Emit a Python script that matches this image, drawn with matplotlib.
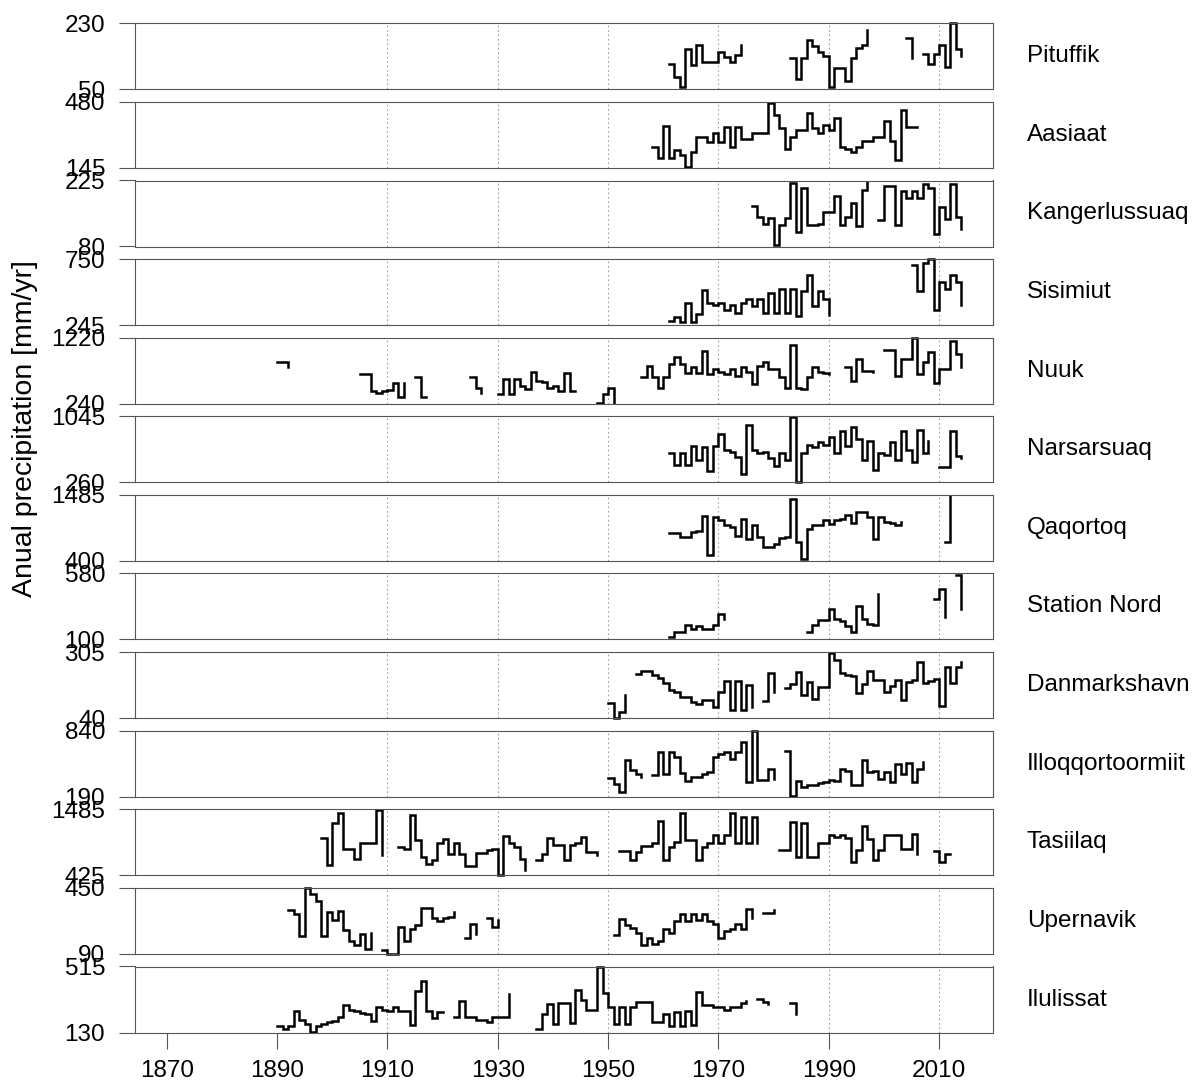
import numpy as np
import matplotlib.pyplot as plt

plt.rcParams['font.family'] = ['Liberation Sans', 'DejaVu Sans']

# annual precipitation [mm/yr]; each key is the first year of an unbroken run
PITUFFIK = {
    1961: [120, 84, 55, 159, 116, 170, 125, 125, 125, 152, 139, 125, 143, 171],
    1983: [136, 77, 136, 184, 168, 152, 140, 56, 107, 107, 72, 134, 163, 171, 212],
    2004: [189, 134],
    2007: [145, 119, 145, 172, 111, 230, 161, 141],
}
AASIAAT = {
    1958: [253, 193, 359, 193, 236, 210, 150, 227, 304, 304, 278, 321, 278, 355, 253,
           355, 290, 290, 321, 321, 321, 475, 415, 347, 239, 304, 338, 338, 424, 347,
           321, 364, 338, 398, 253, 239, 227, 253, 282, 282, 304, 304, 384, 282, 184,
           441, 355, 355, 355],
}
KANGERLUSSUAQ = {
    1976: [170, 144, 130, 143, 84, 127, 143, 219, 112, 208, 128, 128, 130, 156, 155,
           192, 127, 145, 175, 125, 204, 221],
    1999: [138, 212, 212, 127, 202, 186, 202, 186, 217, 208, 108, 167, 141, 217, 145, 118],
}
SISIMIUT = {
    1961: [276, 310, 266, 415, 266, 331, 512, 415, 402, 415, 363, 402, 337, 415, 446,
           389, 441, 337, 494, 337, 520, 337, 520, 316, 507, 630, 389, 507, 441, 323],
    2005: [708, 507, 721, 750, 363, 572, 520, 630, 577, 402],
}
NUUK = {
    1890: [865, 865, 780],
    1905: [680, 680, 430, 405, 430, 440, 540, 345, 540],
    1915: [640, 345, 345],
    1925: [630, 480, 405],
    1930: [380, 605, 380, 605, 505, 455, 705, 580, 555, 480, 505, 430, 690, 430, 430],
    1948: [245, 380, 470, 255],
    1956: [630, 805, 630, 470, 630, 830, 930, 830, 690, 780, 690, 1020, 680, 755, 705,
           680, 755, 655, 780, 705, 530, 805, 855, 755, 755, 630, 480, 1105, 480, 455,
           630, 780, 705, 690, 680],
    1993: [780, 580, 905, 730, 730, 705],
    2000: [1040, 1040, 655, 905, 905, 1215, 680, 855, 1005, 540, 755, 755, 1170, 980, 790],
}
NARSARSUAQ = {
    1961: [606, 463, 614, 463, 695, 524, 679, 390, 687, 829, 646, 626, 565, 362, 939,
           646, 614, 626, 545, 451, 606, 524, 1040, 265, 606, 707, 679, 736, 707, 801,
           606, 870, 687, 923, 776, 524, 748, 410, 606, 585, 736, 524, 870, 646, 504,
           882, 606, 748],
    2010: [443, 443, 870, 573, 545],
}
QAQORTOQ = {
    1961: [856, 856, 801, 801, 873, 890, 1134, 500, 1123, 1068, 984, 956, 817, 1095, 762,
           984, 801, 623, 623, 678, 778, 790, 1413, 706, 428, 928, 984, 984, 1068, 1012,
           1068, 1095, 1151, 1023, 1207, 1207, 1123, 762, 1123, 1040, 1023, 984, 1040],
    2011: [717, 1460],
}
STATION_NORD = {
    1961: [117, 158, 158, 207, 178, 197, 173, 173, 207, 288, 251],
    1986: [158, 202, 239, 239, 324, 251, 232, 197, 158, 344, 251, 215, 202, 434],
    2009: [397, 466, 263],
    2013: [568, 324],
}
DANMARKSHAVN = {
    1950: [102, 42, 64, 132],
    1955: [216, 229, 229, 213, 202, 179, 152, 145, 125, 125, 105, 98, 112, 112, 85,
           145, 189, 71, 189, 71, 172, 85],
    1978: [108, 220, 145],
    1982: [162, 175, 227, 132, 186, 118, 166, 166, 301, 274, 220, 213, 210, 139, 175,
           229, 193, 193, 145, 170, 193, 112, 186, 193, 267, 179, 189, 197, 89, 247,
           179, 247, 264],
}
ILLOQQORTOORMIIT = {
    1950: [374, 315, 233, 551, 453, 413, 380],
    1958: [407, 627, 413, 627, 577, 420, 348, 380, 380, 413, 430, 577, 610, 627, 561,
           627, 725, 331, 835, 354, 354, 462, 364],
    1982: [643, 195, 348, 288, 308, 308, 321, 331, 354, 348, 462, 440, 308, 308, 551,
           430, 446, 364, 430, 331, 512, 413, 518, 331, 462, 528],
}
TASIILAQ = {
    1898: [1017, 586, 1270, 1420, 855, 855, 694, 936, 936, 936, 1480, 748],
    1912: [882, 855, 1393, 990, 721, 613, 678, 936, 1001, 775, 947, 775, 570, 570, 785,
           785, 828, 855, 435, 1054, 936, 882, 694, 506],
    1937: [678, 775, 1017, 909, 909, 678, 909, 936, 1044, 802, 802, 748],
    1952: [818, 818, 667, 802, 893, 893, 936, 1302, 678, 882, 963, 1420, 990, 990, 678,
           882, 947, 1071, 947, 1071, 1431, 947, 1367, 947, 1367, 947],
    1981: [839, 839, 1286, 721, 1270, 721, 721, 936, 936, 1071, 1044, 1071, 1017, 640, 828,
           1216, 1001, 667, 828, 1071, 1071, 1071, 855, 855, 1087, 775],
    2009: [818, 640, 764, 764],
}
UPERNAVIK = {
    1892: [329, 307, 187, 448, 417, 377, 187, 316, 274, 325, 219, 163, 138, 200, 114, 206],
    1909: [110, 92, 92, 237, 163, 224, 248, 343, 343, 285, 270, 285, 292, 316],
    1924: [174, 255, 200],
    1928: [285, 237, 274],
    1951: [193, 279, 248, 233, 206, 141, 174, 145, 160, 224, 206, 270, 310, 270, 310,
           274, 310, 270, 255, 178, 215, 224, 252, 224, 334, 288],
    1978: [314, 314, 330],
}
ILULISSAT = {
    1890: [169, 150, 169, 253, 202, 179, 133, 169, 179, 189, 195, 218, 292, 261, 253,
           245, 237, 198, 277, 261, 257, 280, 257, 253, 175, 370, 429, 253, 214, 247, 247],
    1922: [222, 312, 218, 218, 202, 202, 189, 222, 222, 222, 355],
    1937: [150, 237, 296, 179, 300, 300, 183, 378, 320, 261, 261, 512, 359, 277, 179,
           277, 179, 277, 306, 306, 306, 189, 189, 237, 169, 247, 169, 257, 175, 364,
           292, 292, 277, 277, 261, 277, 280, 300, 312],
    1977: [325, 306, 296],
    1983: [300, 237],
}

stations = ['Pituffik', 'Aasiaat', 'Kangerlussuaq', 'Sisimiut', 'Nuuk', 'Narsarsuaq',
            'Qaqortoq', 'Station Nord', 'Danmarkshavn', 'Illoqqortoormiit', 'Tasiilaq',
            'Upernavik', 'Ilulissat']
series = [PITUFFIK, AASIAAT, KANGERLUSSUAQ, SISIMIUT, NUUK, NARSARSUAQ, QAQORTOQ,
          STATION_NORD, DANMARKSHAVN, ILLOQQORTOORMIIT, TASIILAQ, UPERNAVIK, ILULISSAT]
y_ranges = [(50, 230), (145, 480), (80, 225), (245, 750), (240, 1220), (260, 1045),
            (400, 1485), (100, 580), (40, 305), (190, 840), (425, 1485), (90, 450),
            (130, 515)]
year_ticks = np.arange(1870, 2011, 20)
grid_years = np.arange(1910, 2011, 20)
first_year, last_year = 1870, 2014

W, H = 1201, 1091
fig = plt.figure(figsize=(W / 100, H / 100), dpi=100)
fig.patch.set_facecolor('white')

left, right = 135, 993
top0, step, height = 23.3, 78.6, 66
pad_years = 0.04 * (last_year - first_year)
xlim = (first_year - pad_years, last_year + pad_years)
box_col = '#555555'
fs = 17.5

for i, (name, runs, (lo, hi)) in enumerate(zip(stations, series, y_ranges)):
    top = top0 + i * step
    ax = fig.add_axes([left / W, 1 - (top + height) / H, (right - left) / W, height / H])
    for g in grid_years:
        ax.axvline(g, color='#a0a0a0', lw=0.8, ls=(0, (1.5, 2.5)), zorder=0)
    for start, vals in runs.items():
        yrs = np.arange(start, start + len(vals))
        ax.step(yrs, vals, where='post', color='black', lw=1.8, clip_on=False,
                solid_joinstyle='miter')
    ax.set_xlim(*xlim)
    ax.set_ylim(lo, hi)
    ax.set_yticks([lo, hi])
    ax.set_yticklabels([str(lo), str(hi)])
    for sp in ax.spines.values():
        sp.set_color(box_col)
        sp.set_linewidth(0.8)
    ax.tick_params(axis='y', direction='out', length=11.5, width=0.8, color=box_col,
                   labelsize=fs, pad=10)
    if i == len(stations) - 1:
        ax.set_xticks(year_ticks)
        ax.tick_params(axis='x', direction='out', length=11.5, width=0.8, color=box_col,
                       labelsize=fs, pad=8)
    else:
        ax.set_xticks([])
    ax.text(1.0396, 0.5, name, transform=ax.transAxes, ha='left', va='center', fontsize=fs)

fig.text(25 / W, 1 - 429 / H, 'Anual precipitation [mm/yr]', rotation=90,
         ha='center', va='center', fontsize=20.5)

fig.savefig('out.png', dpi=100, facecolor='white')
